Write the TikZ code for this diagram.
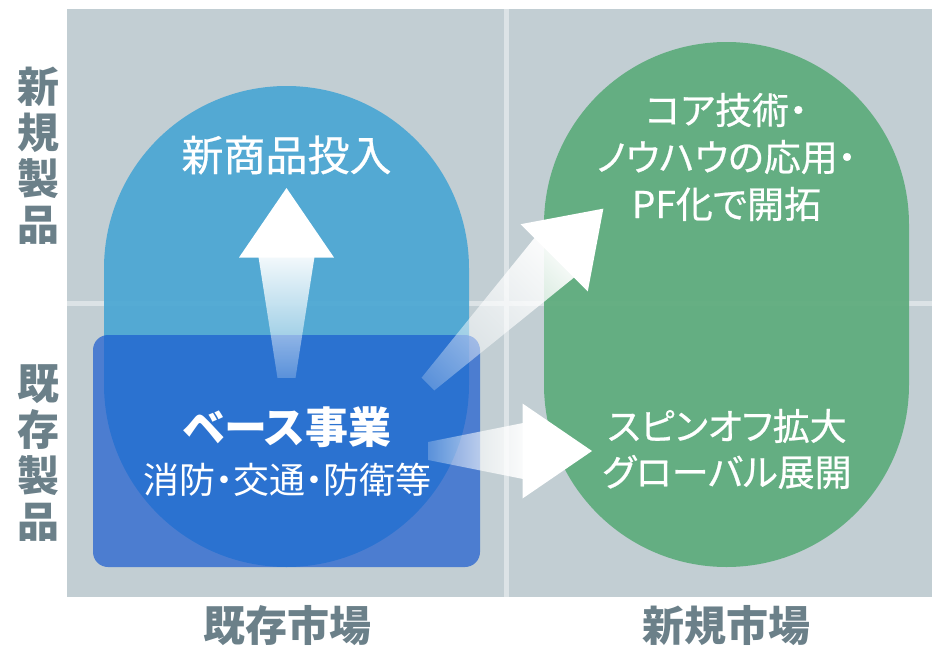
\documentclass[tikz,border=0pt]{standalone}
\usepackage{fontspec}
\newfontfamily\jp{Noto Sans CJK JP}
\newfontfamily\jpp[RawFeature=+palt]{Noto Sans CJK JP}
\newfontfamily\jpm[RawFeature=+palt, FakeBold=0.6]{Noto Sans CJK JP}
\usetikzlibrary{fadings}
\definecolor{panel}{HTML}{C2CED3}
\definecolor{divider}{HTML}{DCE3E6}
\definecolor{stadblue}{HTML}{4EA8D4}
\definecolor{stadgreen}{HTML}{60AD7E}
\definecolor{baseblue}{RGB}{27,92,207}
\definecolor{axistext}{HTML}{6B8089}
\pgfdeclarehorizontalshading{shaftmask}{100bp}{color(0bp)=(pgftransparent!100); color(15bp)=(pgftransparent!92); color(80bp)=(pgftransparent!0); color(100bp)=(pgftransparent!0)}
\pgfdeclarefading{shaftfade}{\pgfuseshading{shaftmask}}
\tikzset{
  stadium/.style={fill=#1, opacity=0.95, inner sep=0pt, rounded corners=182.5pt, minimum width=365pt},
  whitetxt/.style={text=white, inner sep=0pt, align=center},
  axislbl/.style={text=axistext, inner sep=0pt, align=center, font=\jp\bfseries\fontsize{42}{46}\selectfont},
  shaftpart/.style={fill=white, path fading=shaftfade},
  headpart/.style={fill=white}
}
\newcommand{\growarrow}[3]{% #1 shift, #2 angle, #3 shaft length
  \begin{scope}[transform canvas={shift={#1}, rotate=#2}]
    \fill[shaftpart] (0,-9) -- (#3,-28) -- (#3,28) -- (0,9) -- cycle;
    \fill[headpart] (#3-0.5,-47.5) -- (#3+69,0) -- (#3-0.5,47.5) -- cycle;
  \end{scope}}
\begin{document}
\begin{tikzpicture}[x=1pt, y=-1pt]
\useasboundingbox (0,0) rectangle (932,646);
% panel and dividers
\fill[panel] (67,9) rectangle (932,597);
\fill[divider] (67,301) rectangle (932,306);
\fill[divider] (504,9) rectangle (509,597);
% stadiums
\node[stadium=stadblue, minimum height=481pt] (newprodarea) at (286.5,326.5) {};
\node[stadium=stadgreen, minimum height=525pt] (newmarketarea) at (726.5,304.5) {};
% base business box
\node[fill=baseblue, opacity=0.7, rounded corners=15pt, minimum width=387pt, minimum height=232pt, inner sep=0pt] (basebox) at (286.5,451) {};
% arrows
\growarrow{(286.5,378)}{90}{121}
\growarrow{(428,384)}{45}{179}
\growarrow{(428,451)}{0}{95}
% texts
\node[whitetxt, font=\jpm\fontsize{42}{46}\selectfont] (newprod) at (286.5,155) {新商品投入};
\node[whitetxt, font=\jpm\fontsize{37}{47}\selectfont] (coretech) at (726.5,157) {コア技術・\\ノウハウの応用・\\PF化で開拓};
\node[whitetxt, font=\jpm\fontsize{37}{46}\selectfont] (spinoff) at (727,449) {スピンオフ拡大\\グローバル展開};
\node[whitetxt, font=\jpp\bfseries\fontsize{43}{43}\selectfont] (base) at (287,427) {ベース事業};
\node[whitetxt, font=\jpp\fontsize{36}{36}\selectfont] (basesub) at (287,480) {消防・交通・防衛等};
% axis labels
\node[axislbl] (ynew) at (38,155.5) {新\\規\\製\\品};
\node[axislbl] (yold) at (38,453.5) {既\\存\\製\\品};
\node[axislbl] (xold) at (287,626) {既存市場};
\node[axislbl] (xnew) at (726,626) {新規市場};
\end{tikzpicture}
\end{document}
